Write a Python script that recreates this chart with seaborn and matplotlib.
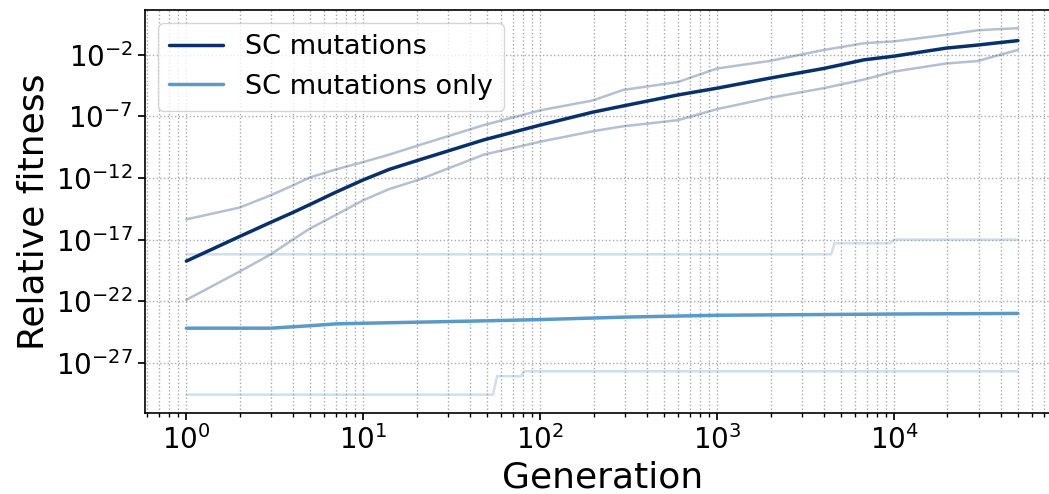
import numpy as np
import pandas as pd
import matplotlib
matplotlib.use("Agg")
import matplotlib.pyplot as plt
import matplotlib.ticker as mticker
import seaborn as sns

GENS = [1, 2, 3, 4, 5, 7, 10, 14, 21, 48, 100, 198, 293, 600, 1000, 1960,
        4000, 6750, 10000, 19600, 29600, 39300, 50000]
SC_MEAN = [-18.75, -16.75, -15.6, -14.8, -14.15, -13.15, -12.15, -11.3, -10.5,
           -8.9, -7.7, -6.65, -6.15, -5.25, -4.7, -3.9, -3.1, -2.4, -2.1,
           -1.45, -1.2, -1.0, -0.84]
SC_UPPER = [-15.36, -14.4, -13.4, -12.6, -11.95, -11.3, -10.7, -10.1, -9.3,
            -7.7, -6.5, -5.7, -4.85, -4.2, -3.1, -2.5, -1.6, -1.05, -0.9,
            -0.37, 0.0, 0.1, 0.17]
SC_LOWER = [-21.9, -19.6, -18.2, -17.0, -16.1, -15.0, -13.8, -12.9, -12.1,
            -10.1, -9.05, -8.2, -7.8, -7.3, -6.4, -5.5, -4.7, -4.0, -3.35,
            -2.7, -2.5, -2.0, -1.6]

ONLY_GENS = [1, 3, 5, 7, 10, 50, 100, 300, 1000, 10000, 50000]
ONLY_MEAN = [-24.2, -24.2, -24.0, -23.85, -23.8, -23.6, -23.5, -23.3, -23.15,
             -23.05, -23.0]

ONLY_UPPER_GENS = [1, 4400, 4600, 9500, 10000, 50000]
ONLY_UPPER = [-18.2, -18.2, -17.3, -17.3, -17.0, -17.0]
ONLY_LOWER_GENS = [1, 54, 57, 78, 81, 50000]
ONLY_LOWER = [-29.6, -29.6, -28.1, -28.1, -27.7, -27.7]

DARK = "#08306b"
MID = "#5a9ac8"


def frame(gens, logvals):
    return pd.DataFrame({"gen": gens, "fit": np.power(10.0, logvals)})


sns.set_theme(context="notebook", style="white",
              rc={"axes.edgecolor": "black", "axes.linewidth": 1.2,
                  "xtick.bottom": True, "ytick.left": True,
                  "xtick.major.size": 5, "xtick.minor.size": 3,
                  "ytick.major.size": 5, "xtick.color": "black",
                  "ytick.color": "black", "text.color": "black",
                  "axes.labelcolor": "black"})
plt.rcParams["font.family"] = ["DejaVu Sans"]

fig, ax = plt.subplots(figsize=(10.49, 4.94), dpi=100)

# confidence bounds first, faint
sns.lineplot(data=frame(GENS, SC_UPPER), x="gen", y="fit", ax=ax,
             color=DARK, alpha=0.3, lw=1.8)
sns.lineplot(data=frame(GENS, SC_LOWER), x="gen", y="fit", ax=ax,
             color=DARK, alpha=0.3, lw=1.8)
sns.lineplot(data=frame(ONLY_UPPER_GENS, ONLY_UPPER), x="gen", y="fit", ax=ax,
             color=MID, alpha=0.3, lw=1.8)
sns.lineplot(data=frame(ONLY_LOWER_GENS, ONLY_LOWER), x="gen", y="fit", ax=ax,
             color=MID, alpha=0.3, lw=1.8)

sns.lineplot(data=frame(GENS, SC_MEAN), x="gen", y="fit", ax=ax,
             color=DARK, lw=2.5, label="SC mutations")
sns.lineplot(data=frame(ONLY_GENS, ONLY_MEAN), x="gen", y="fit", ax=ax,
             color=MID, lw=2.5, label="SC mutations only")

ax.set_xscale("log")
ax.set_yscale("log")
ax.set_yticks([10.0 ** e for e in range(-27, 0, 5)])
ax.yaxis.set_minor_locator(mticker.NullLocator())

ax.grid(True, which="both", linestyle=":", color="#aaaaaa", linewidth=1)
ax.set_axisbelow(True)

ax.set_xlabel("Generation", fontsize=26)
ax.set_ylabel("Relative fitness", fontsize=26)
ax.tick_params(axis="both", which="major", labelsize=20)
ax.legend(loc="upper left", fontsize=19.5)

fig.subplots_adjust(left=0.138, right=1.01, top=0.98, bottom=0.164)
fig.savefig("out.png", dpi=100)
